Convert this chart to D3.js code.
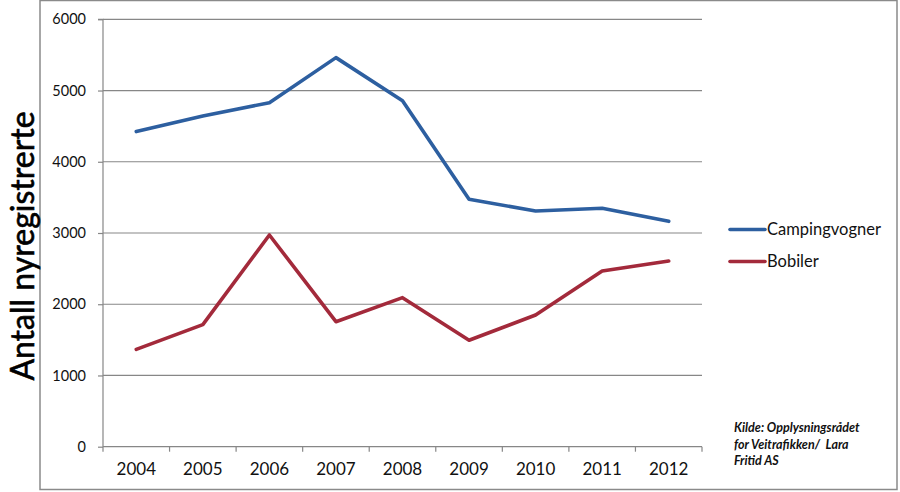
<!DOCTYPE html>
<html><head><meta charset="utf-8">
<script src="https://cdn.jsdelivr.net/npm/d3@7"></script>
<style>body{margin:0;background:#fff}svg{display:block}</style>
</head><body><svg id="c" width="900" height="492"></svg>
<script>
const years = ["2004","2005","2006","2007","2008","2009","2010","2011","2012"];
const campingvogner = [4424, 4643, 4830, 5462, 4858, 3473, 3309, 3347, 3164];
const bobiler = [1367, 1713, 2972, 1755, 2092, 1494, 1849, 2467, 2607];
const yTicks = [0, 1000, 2000, 3000, 4000, 5000, 6000];
const seriesNames = ["Campingvogner", "Bobiler"];
const seriesColors = ["#2d5fa0", "#a32a3b"];
const yTitle = "Antall nyregistrerte";
const sourceLines = ["Kilde: Opplysningsrådet", "for Veitrafikken/  Lara", "Fritid AS"];

const svg = d3.select("#c");
const font = "Lato, 'Open Sans', sans-serif";
const L = 103, R = 702, T = 19.3, B = 446.7;

// outer frame
svg.append("rect").attr("x", 40).attr("y", 0.5).attr("width", 857).attr("height", 489)
  .attr("fill", "none").attr("stroke", "#8a8a8a").attr("stroke-width", 1.5);

const x = d3.scaleBand().domain(years).range([L, R]);
const y = d3.scaleLinear().domain([0, 6000]).range([B, T]);

// gridlines
svg.append("g").selectAll("line").data(yTicks.slice(1)).join("line")
  .attr("x1", L).attr("x2", R).attr("y1", d => y(d)).attr("y2", d => y(d))
  .attr("stroke", "#878787").attr("stroke-width", 1.2);

// y axis
const ya = svg.append("g").attr("transform", `translate(${L},0)`)
  .call(d3.axisLeft(y).tickValues(yTicks).tickSize(5).tickPadding(12).tickFormat(d3.format("d")));
ya.select(".domain").attr("stroke", "#878787").attr("stroke-width", 1.2).attr("d", `M-5,${T}H0V${B + 5}`);
ya.selectAll(".tick line").attr("stroke", "#878787").attr("stroke-width", 1.2);
ya.selectAll("text").attr("font-family", font).attr("font-size", 14.5).attr("fill", "#111");

// x axis
const xa = svg.append("g").attr("transform", `translate(0,${B})`)
  .call(d3.axisBottom(x).tickSize(0).tickPadding(16));
xa.select(".domain").attr("stroke", "#878787").attr("stroke-width", 1.2).attr("d", `M${L},0H${R}`);
xa.selectAll("text").attr("font-family", font).attr("font-size", 17).attr("fill", "#111");
// category boundary ticks
svg.append("g").selectAll("line").data(years.slice(1).concat(["end"])).join("line")
  .attr("x1", (d, i) => i < years.length - 1 ? x(d) : R)
  .attr("x2", (d, i) => i < years.length - 1 ? x(d) : R)
  .attr("y1", B).attr("y2", B + 5).attr("stroke", "#878787").attr("stroke-width", 1.2);

// lines
const line = d3.line().x((d, i) => x(years[i]) + x.bandwidth() / 2).y(d => y(d));
[campingvogner, bobiler].forEach((s, k) => {
  svg.append("path").datum(s).attr("d", line).attr("fill", "none")
    .attr("stroke", seriesColors[k]).attr("stroke-width", 3.6)
    .attr("stroke-linejoin", "round").attr("stroke-linecap", "round");
});

// legend
seriesNames.forEach((n, k) => {
  const ly = 229.5 + k * 32;
  svg.append("line").attr("x1", 730).attr("x2", 765).attr("y1", ly).attr("y2", ly)
    .attr("stroke", seriesColors[k]).attr("stroke-width", 3.6).attr("stroke-linecap", "round");
  svg.append("text").attr("x", 767).attr("y", ly).attr("dy", "0.35em")
    .attr("font-family", font).attr("font-size", 16.5).attr("fill", "#111").text(n);
});

// y title
svg.append("text").attr("transform", "translate(34,246) rotate(-90)")
  .attr("text-anchor", "middle").attr("font-family", font).attr("font-size", 32)
  .attr("fill", "#000").attr("stroke", "#000").attr("stroke-width", 0.6).text(yTitle);

// source
sourceLines.forEach((t, i) => {
  svg.append("text").attr("x", 734).attr("y", 432 + i * 16.5)
    .attr("font-family", font).attr("font-size", 12.5).attr("font-style", "italic")
    .attr("font-weight", "bold").attr("fill", "#111").attr("xml:space", "preserve").text(t);
});
</script></body></html>
